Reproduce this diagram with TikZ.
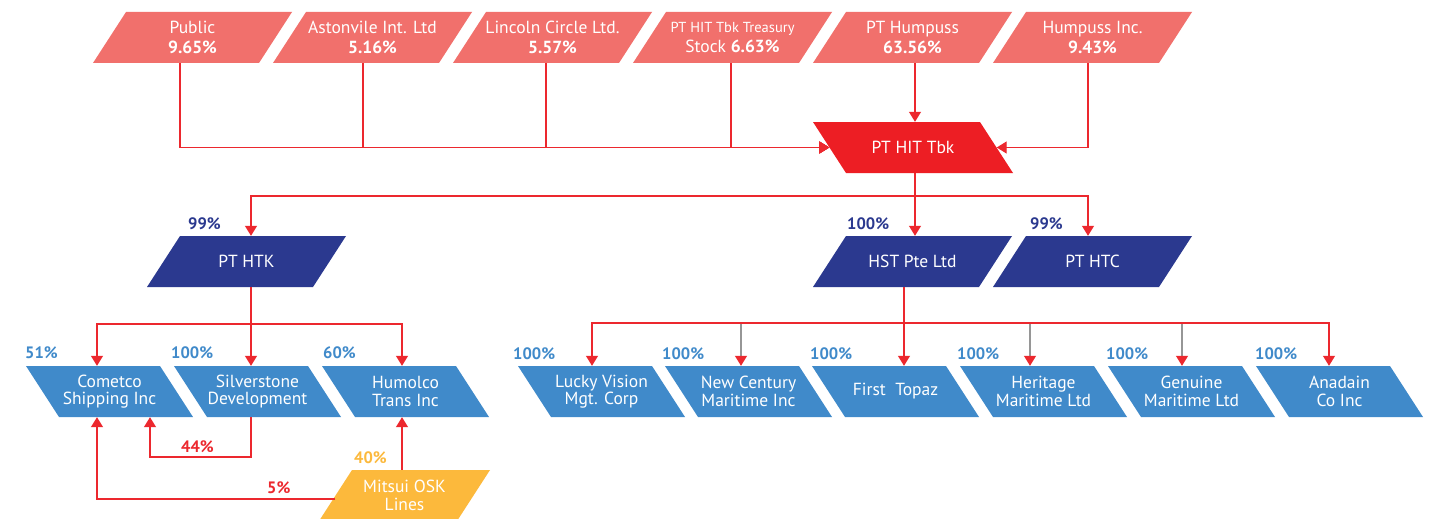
\documentclass[tikz,border=0pt]{standalone}
\usepackage{fontspec}
\setmainfont{PT Sans}
\usetikzlibrary{arrows.meta}
\definecolor{salmon}{RGB}{241,112,108}
\definecolor{hitred}{RGB}{237,30,36}
\definecolor{navy}{RGB}{43,57,143}
\definecolor{lblue}{RGB}{64,138,202}
\definecolor{myyellow}{RGB}{252,185,60}
\definecolor{linered}{RGB}{236,40,46}
\definecolor{lgray}{RGB}{150,150,150}
% "/" shaped box: #1 name, #2 bottom-left x, #3 top y, #4 width, #5 colour, #6 node options, #7 text
\newcommand{\boxRS}[7]{%
  \fill[#5] (#2,#3+51) -- (#2+#4,#3+51) -- (#2+#4+33,#3) -- (#2+33,#3) -- cycle;
  \node[btxt,minimum width=#4,#6] (#1) at (#2+#4/2+16.5,#3+25.5) {#7};}
% "\" shaped box: #2 top-left x
\newcommand{\boxLS}[7]{%
  \fill[#5] (#2,#3) -- (#2+#4,#3) -- (#2+#4+33,#3+51) -- (#2+33,#3+51) -- cycle;
  \node[btxt,minimum width=#4,#6] (#1) at (#2+#4/2+16.5,#3+25.5) {#7};}
\begin{document}
\begin{tikzpicture}[x=1pt,y=-1pt,
  btxt/.style={text=white,align=center,inner sep=0pt,minimum height=51pt,
    font=\fontsize{17.5}{17.5}\selectfont},
  toptxt/.style={font=\fontsize{17.5}{20}\selectfont},
  pl/.style={anchor=west,inner sep=0pt,font=\fontsize{16.5}{18}\selectfont\bfseries},
  arr/.style={draw=linered,line width=1.2pt,-{Triangle[width=12pt,length=10pt]}},
  ln/.style={draw=linered,line width=1.2pt},
  grayarr/.style={draw=lgray,line width=1.2pt,-{Triangle[width=12pt,length=10pt,color=linered]}}]
\useasboundingbox (0,0) rectangle (1430,519);
\fill[white] (0,0) rectangle (1430,519);

% lanes
\foreach \xx in {97,150,180,251,363,402,546,592,731,741,904,915,1030,1088,1182,1329}
  \coordinate (L\xx) at (\xx,0);
\foreach \yy in {196,323,324,457,499}
  \coordinate (Y\yy) at (0,\yy);

% top row
\boxRS{public}{93}{12}{166}{salmon}{toptxt}{Public\\\textbf{9.65\%}}
\boxRS{aston}{273}{12}{166}{salmon}{toptxt}{Astonvile Int. Ltd\\\textbf{5.16\%}}
\boxRS{lincoln}{453}{12}{166}{salmon}{toptxt}{Lincoln Circle Ltd.\\\textbf{5.57\%}}
\boxRS{treasury}{633}{12}{166}{salmon}{toptxt}{{\fontsize{14.5}{16}\selectfont PT HIT Tbk Treasury}\\Stock \textbf{6.63\%}}
\boxRS{humpuss}{813}{12}{166}{salmon}{toptxt}{PT Humpuss\\\textbf{63.56\%}}
\boxRS{humpussinc}{993}{12}{166}{salmon}{toptxt}{Humpuss Inc.\\\textbf{9.43\%}}

% PT HIT Tbk
\boxLS{hit}{813}{122}{167}{hitred}{}{PT HIT Tbk}

% second level
\boxRS{htk}{147}{236}{166}{navy}{}{PT HTK}
\boxRS{hst}{813}{236}{166}{navy}{}{HST Pte Ltd}
\boxRS{htc}{993}{236}{166}{navy}{}{PT HTC}

% left bottom row
\boxLS{cometco}{26}{366}{134}{lblue}{}{Cometco\\Shipping Inc}
\boxLS{silver}{174}{366}{134}{lblue}{}{Silverstone\\Development}
\boxLS{humolco}{322}{366}{134}{lblue}{}{Humolco\\Trans Inc}
\boxRS{mitsui}{319}{470}{138}{myyellow}{}{Mitsui OSK\\Lines}

% right bottom row
\boxLS{lucky}{518}{366}{134}{lblue}{}{Lucky Vision\\Mgt. Corp}
\boxLS{newc}{665}{366}{134}{lblue}{}{New Century\\Maritime Inc}
\boxLS{first}{812}{366}{134}{lblue}{}{First~~Topaz}
\boxLS{heritage}{960}{366}{134}{lblue}{}{Heritage\\Maritime Ltd}
\boxLS{genuine}{1108}{366}{134}{lblue}{}{Genuine\\Maritime Ltd}
\boxLS{anadain}{1256}{366}{134}{lblue}{}{Anadain\\Co Inc}

% percentage labels
\node[pl,text=navy] (lhtk) at (188,224) {99\%};
\node[pl,text=navy] (lhst) at (847,224) {100\%};
\node[pl,text=navy] (lhtc) at (1030,224) {99\%};
\node[pl,text=lblue] (lcom) at (25,353) {51\%};
\node[pl,text=lblue] (lsil) at (171,353) {100\%};
\node[pl,text=lblue] (lhum) at (323,353) {60\%};
\node[pl,text=lblue] (lluc) at (513,354) {100\%};
\node[pl,text=lblue] (lnew) at (662,354) {100\%};
\node[pl,text=lblue] (lfir) at (810,354) {100\%};
\node[pl,text=lblue] (lher) at (957,354) {100\%};
\node[pl,text=lblue] (lgen) at (1106,354) {100\%};
\node[pl,text=lblue] (lana) at (1255,354) {100\%};
\node[pl,text=linered] (l44) at (181,447) {44\%};
\node[pl,text=linered] (l5) at (267,488) {5\%};
\node[pl,text=myyellow] (l40) at (354,458) {40\%};

% connectors: top row -> PT HIT Tbk
\draw[arr] (L180 |- public.south) |- (hit.west);
\draw[arr] (L363 |- aston.south) |- (hit.west);
\draw[arr] (L546 |- lincoln.south) |- (hit.west);
\draw[arr] (L731 |- treasury.south) |- (hit.west);
\draw[arr] (L915 |- humpuss.south) -- (L915 |- hit.north);
\draw[arr] (L1088 |- humpussinc.south) |- (hit.east);

% PT HIT Tbk -> subsidiaries
\draw[arr] (L915 |- hit.south) -- (L915 |- hst.north);
\draw[arr] (L915 |- Y196) -| (L251 |- htk.north);
\draw[arr] (L915 |- Y196) -| (L1088 |- htc.north);

% PT HTK -> left row
\draw[arr] (L251 |- htk.south) -- (L251 |- silver.north);
\draw[arr] (L251 |- Y324) -| (L97 |- cometco.north);
\draw[arr] (L251 |- Y324) -| (L402 |- humolco.north);
\draw[arr] (L251 |- silver.south) -- (L251 |- Y457) -| (L150 |- cometco.south);
\draw[arr] (L402 |- mitsui.north) -- (L402 |- humolco.south);
\draw[arr] (mitsui.west |- Y499) -| (L97 |- cometco.south);

% HST -> right row
\draw[grayarr] (L741 |- Y323) -- (L741 |- newc.north);
\draw[grayarr] (L1030 |- Y323) -- (L1030 |- heritage.north);
\draw[grayarr] (L1182 |- Y323) -- (L1182 |- genuine.north);
\draw[arr] (L904 |- hst.south) -- (L904 |- first.north);
\draw[arr] (L904 |- Y323) -| (L592 |- lucky.north);
\draw[arr] (L904 |- Y323) -| (L1329 |- anadain.north);
\end{tikzpicture}
\end{document}
